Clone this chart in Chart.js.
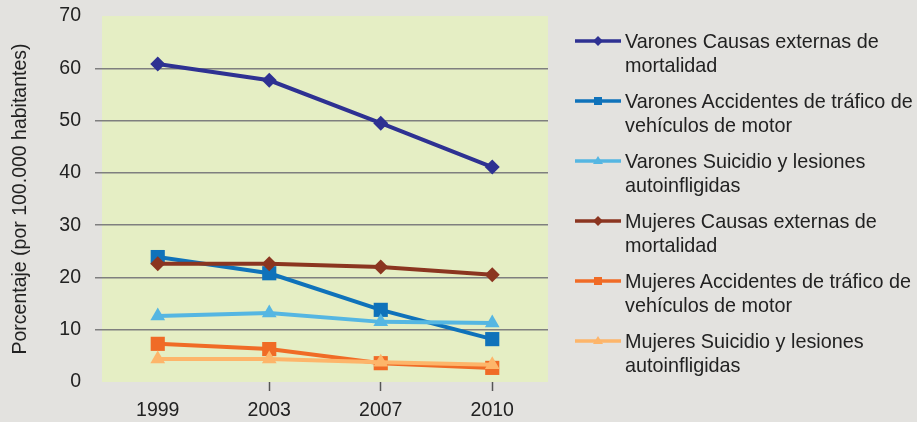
<!DOCTYPE html>
<html>
<head>
<meta charset="utf-8">
<script src="https://cdn.jsdelivr.net/npm/chart.js@4"></script>
<style>
  body { margin: 0; background: #e3e2df; font-family: "Liberation Sans", Arial, sans-serif; }
  #wrap { position: relative; width: 917px; height: 422px; }
  #legend { position: absolute; left: 575px; top: 29px; }
  .item { position: relative; height: 60px; }
  .item svg { position: absolute; left: 0; top: 5px; }
  .item div { position: absolute; left: 50px; top: 0; font-size: 19.8px; line-height: 24px; color: #222; white-space: nowrap; }
</style>
</head>
<body>
<div id="wrap">
  <canvas id="myChart" width="917" height="422"></canvas>
  <div id="legend"></div>
</div>
<script>
const years = ['1999', '2003', '2007', '2010']
const yTicks = [0, 10, 20, 30, 40, 50, 60, 70]

const varonesCausas = [60.8, 57.7, 49.5, 41.1]
const varonesAccidentes = [23.9, 20.8, 13.8, 8.2]
const varonesSuicidio = [12.6, 13.2, 11.5, 11.3]
const mujeresCausas = [22.6, 22.6, 22.0, 20.5]
const mujeresAccidentes = [7.3, 6.3, 3.6, 2.7]
const mujeresSuicidio = [4.4, 4.4, 3.8, 3.3]

const names = [
  ['Varones Causas externas de', 'mortalidad'],
  ['Varones Accidentes de tráfico de', 'vehículos de motor'],
  ['Varones Suicidio y lesiones', 'autoinfligidas'],
  ['Mujeres Causas externas de', 'mortalidad'],
  ['Mujeres Accidentes de tráfico de', 'vehículos de motor'],
  ['Mujeres Suicidio y lesiones', 'autoinfligidas']
]
const colors = ['#2e3192', '#0f72ba', '#55b6e2', '#8b3520', '#f06b26', '#fdb56a']
const shapes = ['rectRot', 'rect', 'triangle', 'rectRot', 'rect', 'triangle']
const series = [varonesCausas, varonesAccidentes, varonesSuicidio, mujeresCausas, mujeresAccidentes, mujeresSuicidio]

const plotBg = {
  id: 'plotBg',
  beforeDraw(chart) {
    const a = chart.chartArea
    chart.ctx.save()
    chart.ctx.fillStyle = '#e5eec4'
    chart.ctx.fillRect(a.left, a.top, a.right - a.left, a.bottom - a.top)
    chart.ctx.restore()
  }
}

const radius = { rectRot: 7.5, rect: 10, triangle: 8.5 }

const datasets = series.map((d, i) => ({
  label: names[i].join(' '),
  data: d,
  order: series.length - i, // later series drawn on top, like the original
  borderColor: colors[i],
  backgroundColor: colors[i],
  borderWidth: 4,
  pointStyle: shapes[i],
  pointRadius: radius[shapes[i]],
  pointBorderWidth: 0,
  tension: 0
}))

const tickFont = { family: 'Liberation Sans', size: 19.5 }

new Chart(document.getElementById('myChart'), {
  type: 'line',
  data: { labels: years, datasets: datasets },
  options: {
    responsive: false,
    animation: false,
    layout: { padding: { top: 16, right: 369, left: 0, bottom: 0 } },
    plugins: { legend: { display: false }, tooltip: { enabled: false } },
    scales: {
      x: {
        offset: true,
        afterFit: s => { s.height = 40; s.paddingLeft = 0; s.paddingRight = 0 },
        border: { display: false },
        grid: {
          drawOnChartArea: false,
          tickLength: 9,
          tickWidth: 1.5,
          tickColor: c => (c.type != 'tick' || c.index == 0) ? 'transparent' : '#555'
        },
        ticks: { color: '#222', font: tickFont, padding: 8 }
      },
      y: {
        min: 0, max: 70,
        afterFit: s => { s.width = 102; s.paddingTop = 0; s.paddingBottom = 0 },
        afterBuildTicks: s => { s.ticks = yTicks.map(v => ({ value: v })) },
        border: { display: false },
        grid: {
          tickLength: 7,
          lineWidth: 1.5,
          color: c => (c.tick && (c.tick.value == 0 || c.tick.value == 70)) ? 'transparent' : '#7f7f7f'
        },
        ticks: { color: '#222', font: tickFont, padding: 14 },
        title: {
          display: true,
          text: 'Porcentaje (por 100.000 habitantes)',
          color: '#222',
          font: { family: 'Liberation Sans', size: 19.5 },
          padding: { top: 9, bottom: 0 }
        }
      }
    }
  },
  plugins: [plotBg]
})

// html legend, two lines per entry
const legend = document.getElementById('legend')
names.forEach((n, i) => {
  let marker = ''
  if (shapes[i] == 'rectRot') marker = '<polygon points="23,2 28,7 23,12 18,7" fill="' + colors[i] + '"/>'
  else if (shapes[i] == 'rect') marker = '<rect x="19" y="3" width="8" height="8" fill="' + colors[i] + '"/>'
  else marker = '<polygon points="23,2 28,10 18,10" fill="' + colors[i] + '"/>'
  const el = document.createElement('div')
  el.className = 'item'
  el.innerHTML = '<svg width="46" height="14"><line x1="0" y1="7" x2="46" y2="7" stroke="' + colors[i] +
    '" stroke-width="3.5"/>' + marker + '</svg><div>' + n[0] + '<br>' + n[1] + '</div>'
  legend.appendChild(el)
})
</script>
</body>
</html>
